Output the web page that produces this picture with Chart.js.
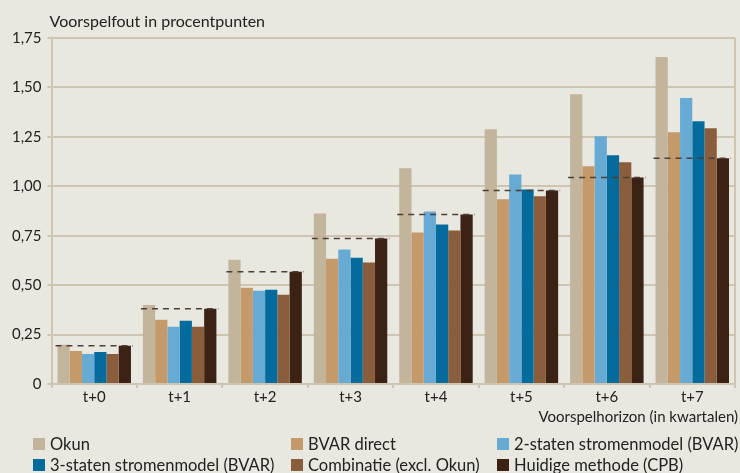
<!DOCTYPE html>
<html>
<head>
<meta charset="utf-8">
<script src="https://cdn.jsdelivr.net/npm/chart.js@4/dist/chart.umd.min.js"></script>
<style>
  html, body { margin: 0; padding: 0; background: #E8E7E0; }
  #wrap { position: relative; width: 740px; height: 473px; background: #E8E7E0; }
  canvas { position: absolute; left: 0; top: 0; }
  #legend { position: absolute; left: 0; top: 434px; width: 740px; font-family: Lato, "Open Sans", sans-serif; font-size: 16.5px; color: #222; }
  .item { position: absolute; display: flex; align-items: center; white-space: nowrap; }
  .box { width: 12px; height: 12px; margin-right: 5px; }
</style>
</head>
<body>
<div id="wrap">
  <canvas id="c" width="740" height="473"></canvas>
  <div id="legend"></div>
</div>
<script>
const categories = ["t+0", "t+1", "t+2", "t+3", "t+4", "t+5", "t+6", "t+7"];
const seriesNames = ["Okun", "BVAR direct", "2-staten stromenmodel (BVAR)", "3-staten stromenmodel (BVAR)", "Combinatie (excl. Okun)", "Huidige methode (CPB)"];
const okun        = [0.198, 0.400, 0.629, 0.862, 1.091, 1.289, 1.466, 1.654];
const bvarDirect  = [0.167, 0.325, 0.487, 0.634, 0.766, 0.934, 1.101, 1.273];
const twoState    = [0.152, 0.290, 0.472, 0.680, 0.873, 1.060, 1.253, 1.446];
const threeState  = [0.162, 0.320, 0.477, 0.639, 0.807, 0.984, 1.157, 1.329];
const combinatie  = [0.152, 0.290, 0.452, 0.614, 0.776, 0.949, 1.121, 1.294];
const cpb         = [0.193, 0.380, 0.568, 0.736, 0.857, 0.979, 1.045, 1.142];
const yTicks = [0, 0.25, 0.5, 0.75, 1.0, 1.25, 1.5, 1.75];
const colors = ["#C3B59C", "#C59A6B", "#67ABD5", "#046B9C", "#8A5E3C", "#3C2215"];

const seriesValues = [okun, bvarDirect, twoState, threeState, combinatie, cpb];
const FONT = 'Lato, "Open Sans", sans-serif';
const GRID = "#CFC4B0";

const extras = {
  id: "extras",
  afterDatasetsDraw(chart) {
    const ctx = chart.ctx;
    const first = chart.getDatasetMeta(0);
    const last = chart.getDatasetMeta(5);
    const y = chart.scales.y;
    ctx.save();
    ctx.strokeStyle = "#4E3F35";
    ctx.lineWidth = 1.5;
    ctx.setLineDash([6, 5]);
    last.data.forEach((bar, i) => {
      const b0 = first.data[i];
      const yy = y.getPixelForValue(cpb[i]);
      ctx.beginPath();
      ctx.moveTo(b0.x - b0.width / 2 - 2, yy);
      ctx.lineTo(bar.x + bar.width / 2 + 2, yy);
      ctx.stroke();
    });
    ctx.restore();
  },
  afterDraw(chart) {
    const ctx = chart.ctx;
    const a = chart.chartArea;
    ctx.save();
    ctx.strokeStyle = GRID;
    ctx.lineWidth = 2;
    ctx.beginPath();
    ctx.moveTo(a.right, a.top);
    ctx.lineTo(a.right, a.bottom);
    ctx.stroke();
    ctx.fillStyle = "#222";
    ctx.font = "16px " + FONT;
    ctx.textBaseline = "middle";
    ctx.textAlign = "left";
    ctx.fillText("Voorspelfout in procentpunten", a.left - 2, 22);
    ctx.font = "15px " + FONT;
    ctx.textAlign = "right";
    ctx.fillText("Voorspelhorizon (in kwartalen)", 738, 417);
    ctx.restore();
  }
};

new Chart(document.getElementById("c"), {
  type: "bar",
  data: {
    labels: categories,
    datasets: seriesNames.map((n, i) => ({
      label: n,
      data: seriesValues[i],
      backgroundColor: colors[i],
      borderWidth: 0,
      barPercentage: 1.0,
      categoryPercentage: 0.86
    }))
  },
  options: {
    responsive: false,
    animation: false,
    devicePixelRatio: 1,
    layout: { padding: { top: 38, right: 5, bottom: 67, left: 6 } },
    plugins: { legend: { display: false }, tooltip: { enabled: false }, title: { display: false } },
    scales: {
      x: {
        grid: { display: true, drawOnChartArea: false, drawTicks: true, tickLength: 4, color: GRID, lineWidth: 2, offset: true },
        border: { display: true, color: GRID, width: 2 },
        ticks: { color: "#222", font: { family: FONT, size: 15 }, padding: 0 },
        title: { display: false }
      },
      y: {
        min: 0, max: 1.75,
        afterBuildTicks(scale) { scale.ticks = yTicks.map(v => ({ value: v })); },
        grid: { color: GRID, lineWidth: 2, tickLength: 4 },
        border: { display: true, color: GRID, width: 2 },
        ticks: {
          color: "#222", font: { family: FONT, size: 15 }, padding: 6,
          callback: v => v === 0 ? "0" : v.toFixed(2).replace(".", ",")
        }
      }
    }
  },
  plugins: [extras]
});

const legend = document.getElementById("legend");
const colX = [33, 291, 497];
seriesNames.forEach((n, i) => {
  const d = document.createElement("div");
  d.className = "item";
  d.style.left = colX[i % 3] + "px";
  d.style.top = (Math.floor(i / 3) * 21) + "px";
  d.innerHTML = '<span class="box" style="background:' + colors[i] + '"></span><span>' + n + '</span>';
  legend.appendChild(d);
});
</script>
</body>
</html>
